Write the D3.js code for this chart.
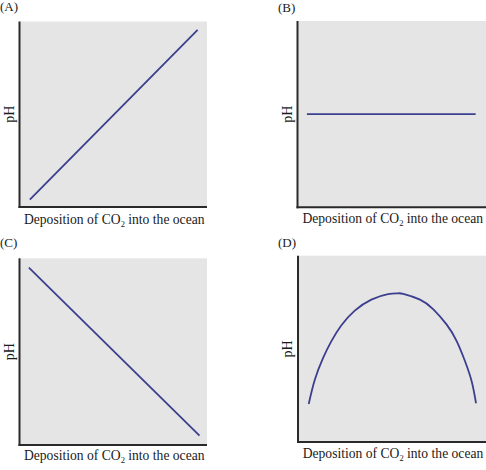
<!DOCTYPE html>
<html>
<head>
<meta charset="utf-8">
<script src="https://cdn.jsdelivr.net/npm/d3@7"></script>
<style>
  html, body { margin: 0; padding: 0; background: #fff; }
  svg { display: block; }
  text { font-family: "Liberation Serif", "DejaVu Serif", serif; fill: #1a1a1a; }
</style>
</head>
<body>
<svg id="chart" width="486" height="470"></svg>
<script>
// ---- data ----
const panelLabels = ["(A)", "(B)", "(C)", "(D)"];
const xAxisTitle = ["Deposition of CO", "2", " into the ocean"];
const yAxisTitle = "pH";
const xDomain = [0, 10];
const yDomain = [0, 10];

const seriesA_x = [0.55, 9.5];
const seriesA_y = [0.4, 9.55];

const seriesB_x = [0.5, 9.45];
const seriesB_y = [5.0, 5.0];

const seriesC_x = [0.5, 9.6];
const seriesC_y = [9.5, 0.5];

const seriesD_x = [0.57, 0.89, 1.33, 1.77, 2.30, 3.02, 3.90, 4.79, 5.32, 5.60, 6.49, 7.20, 7.91, 8.44, 8.88, 9.24, 9.47];
const seriesD_y = [2.04, 3.33, 4.50, 5.40, 6.25, 7.05, 7.64, 7.94, 7.98, 7.95, 7.64, 7.12, 6.30, 5.42, 4.35, 3.25, 2.08];

// ---- layout ----
const panels = [
  { label: panelLabels[0], xs: seriesA_x, ys: seriesA_y, left: 19.5, right: 207, top: 21.5, bottom: 207, lab: [0, 10.5], phX: 14, xtY: 223.5 },
  { label: panelLabels[1], xs: seriesB_x, ys: seriesB_y, left: 297.5, right: 486, top: 21, bottom: 207.3, lab: [278, 11.5], phX: 292, xtY: 223 },
  { label: panelLabels[2], xs: seriesC_x, ys: seriesC_y, left: 19.5, right: 207, top: 258.3, bottom: 445, lab: [0, 246.5], phX: 14, xtY: 460 },
  { label: panelLabels[3], xs: seriesD_x, ys: seriesD_y, left: 298, right: 486, top: 255.7, bottom: 442, lab: [278, 246.5], phX: 292, xtY: 458 }
];

const svg = d3.select("#chart");

panels.forEach(p => {
  const x = d3.scaleLinear().domain(xDomain).range([p.left, p.right]);
  const y = d3.scaleLinear().domain(yDomain).range([p.bottom, p.top]);
  const g = svg.append("g");

  g.append("rect")
    .attr("x", p.left).attr("y", p.top)
    .attr("width", p.right - p.left).attr("height", p.bottom - p.top)
    .attr("fill", "#e5e5e5");

  const data = p.xs.map((v, i) => [v, p.ys[i]]);
  g.append("path")
    .datum(data)
    .attr("fill", "none")
    .attr("stroke", "#3b3f8e")
    .attr("stroke-width", 1.8)
    .attr("d", d3.line().x(d => x(d[0])).y(d => y(d[1])).curve(d3.curveNatural));

  const xAxis = g.append("g").attr("transform", `translate(0,${p.bottom})`)
    .call(d3.axisBottom(x).ticks(0).tickSizeOuter(0));
  const yAxis = g.append("g").attr("transform", `translate(${p.left},0)`)
    .call(d3.axisLeft(y).ticks(0).tickSizeOuter(0));
  [xAxis, yAxis].forEach(a => a.select(".domain").attr("stroke", "#2a2a2a").attr("stroke-width", 2));
  yAxis.select(".domain").attr("d", `M0,${p.top}V${p.bottom + 1}`);
  xAxis.select(".domain").attr("d", `M${p.left - 1},0H${p.right}`);

  g.append("text")
    .attr("x", p.lab[0]).attr("y", p.lab[1])
    .attr("font-size", 13)
    .text(p.label);

  g.append("text")
    .attr("transform", `translate(${p.phX},${(p.top + p.bottom) / 2}) rotate(-90)`)
    .attr("text-anchor", "middle")
    .attr("font-size", 14)
    .text(yAxisTitle);

  const t = g.append("text")
    .attr("x", (p.left + p.right) / 2 + 1)
    .attr("y", p.xtY)
    .attr("text-anchor", "middle")
    .attr("font-size", 13.6);
  t.append("tspan").text(xAxisTitle[0]);
  t.append("tspan").attr("font-size", 8.5).attr("dy", 3).text(xAxisTitle[1]);
  t.append("tspan").attr("dy", -3).text(xAxisTitle[2]);
});
</script>
</body>
</html>
